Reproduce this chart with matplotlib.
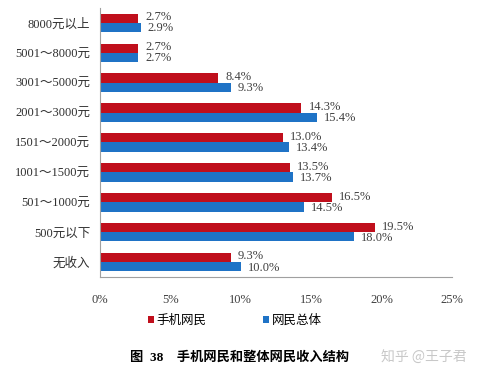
import matplotlib.pyplot as plt
import numpy as np

plt.rcParams['font.family'] = ['Liberation Serif', 'Noto Sans CJK SC']

categories = ['8000元以上', '5001～8000元', '3001～5000元', '2001～3000元', '1501～2000元',
              '1001～1500元', '501～1000元', '500元以下', '无收入']
mobile = [2.7, 2.7, 8.4, 14.3, 13.0, 13.5, 16.5, 19.5, 9.3]
total = [2.9, 2.7, 9.3, 15.4, 13.4, 13.7, 14.5, 18.0, 10.0]
xticks = [0, 5, 10, 15, 20, 25]

red = '#C00F1C'
blue = '#1F73C6'

fig = plt.figure(figsize=(4.79, 3.82), dpi=100)
ax = fig.add_axes([0.2088, 0.275, 0.735, 0.704])

n = len(categories)
y = np.arange(n)[::-1]
h = 0.31
ax.barh(y + h / 2, mobile, height=h, color=red, label='手机网民')
ax.barh(y - h / 2, total, height=h, color=blue, label='网民总体')

for yi, v in zip(y, mobile):
    ax.text(v + 0.5, yi + h / 2 + 0.03, f'{v:.1f}%', va='center', ha='left', fontsize=9, color='#404040')
for yi, v in zip(y, total):
    ax.text(v + 0.5, yi - h / 2 - 0.03, f'{v:.1f}%', va='center', ha='left', fontsize=9, color='#404040')

ax.set_xlim(0, 25)
ax.set_ylim(-0.5, n - 0.5)
ax.set_yticks(y)
ax.set_yticklabels(categories, fontsize=9, color='#303030')
ax.set_xticks(xticks)
ax.set_xticklabels([f'{t}%' for t in xticks], fontsize=9, color='#404040')
ax.tick_params(axis='y', length=0, pad=7)
ax.tick_params(axis='x', length=0, pad=12)
for s in ['top', 'right']:
    ax.spines[s].set_visible(False)
for s in ['left', 'bottom']:
    ax.spines[s].set_color('#A0A0A0')

leg = fig.legend(loc='center', bbox_to_anchor=(0.49, 0.162), ncol=2, frameon=False,
                 handlelength=0.5, handleheight=0.5, columnspacing=4.5, handletextpad=0.2,
                 prop={'family': ['Noto Sans CJK SC'], 'size': 9})

fig.text(0.5, 0.063, '图  38    手机网民和整体网民收入结构', ha='center', va='center',
         fontsize=9.5, fontweight='bold', family=['Liberation Serif', 'Noto Sans CJK SC'])
fig.text(0.885, 0.063, '知乎 @王子君', ha='center', va='center', fontsize=10,
         color='#C8C8C8', family=['Noto Sans CJK SC'])

fig.savefig('out.png', dpi=100)
